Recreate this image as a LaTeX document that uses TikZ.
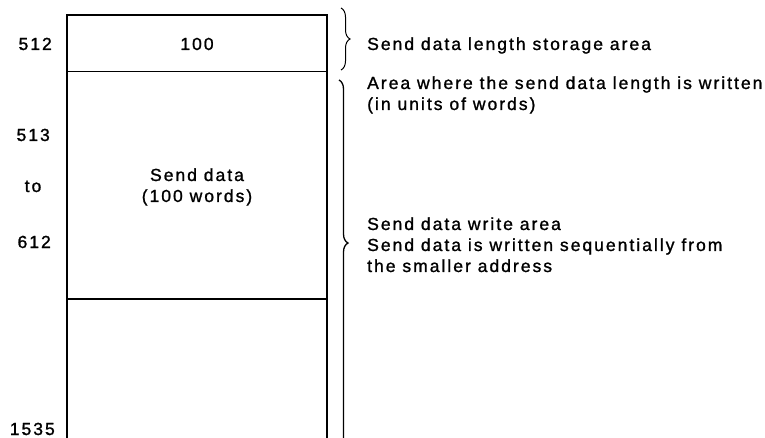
\documentclass[tikz,border=0pt]{standalone}
\usepackage{fontspec}
\setmainfont{Liberation Sans}[LetterSpace=11.5,FakeBold=1.2]
\usetikzlibrary{decorations.pathreplacing}

\begin{document}
\begin{tikzpicture}[x=1pt,y=-1pt,
  txt/.style={inner sep=0pt,font=\fontsize{17.5}{21}\selectfont},
  addr/.style={txt,anchor=base east},
  desc/.style={txt,anchor=base west,align=left},
  cell/.style={txt,anchor=base,align=center},
  brc/.style={decorate,decoration={brace,amplitude=9pt},line width=1pt}]
\useasboundingbox (0,0) rectangle (765,438);
\clip (0,0) rectangle (765,438);
% memory area
\draw[line width=1.1pt] (67,460) -- (67,15) -- (327,15) -- (327,460);
\draw[line width=1pt] (67,72) -- (327,72);
\draw[line width=1.3pt] (67,299) -- (327,299);
% addresses (multi-line nodes sit on their last line)
\node[addr] (a512) at (52,50) {512};
\node[addr] (a513) at (50,141) {513};
\node[txt,anchor=base] (ato) at (33,192) {to};
\node[addr] (a612) at (51,248) {612};
\node[addr] (a1535) at (55,435) {1535};
% cell contents
\node[cell] (len) at (197,50) {100};
\node[cell] (dat) at (197,202) {Send data\\(100 words)};
% braces
\coordinate (b1top) at (341,8);
\coordinate (b1bot) at (341,70);
\coordinate (b2top) at (339,80);
\coordinate (b2bot) at (339,460);
\draw[brc] (b1top) -- (b1bot);
\draw[brc,decoration={aspect=0.429},line width=1.3pt] (b2top) -- (b2bot);
% descriptions
\node[desc] (d1) at (367,50) {Send data length storage area};
\node[desc] (d2) at (367,110) {Area where the send data length is written\\(in units of words)};
\node[desc] (d3) at (367,272) {Send data write area\\Send data is written sequentially from\\the smaller address};
\end{tikzpicture}
\end{document}
